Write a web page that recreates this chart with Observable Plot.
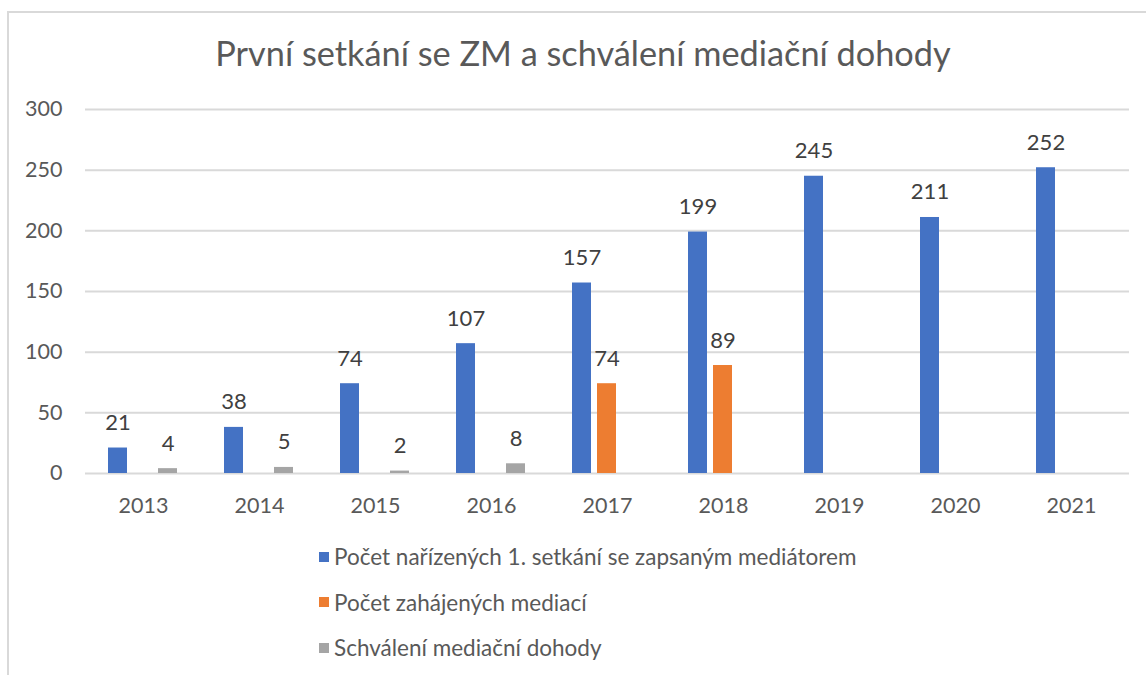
<!DOCTYPE html>
<html>
<head>
<meta charset="utf-8">
<script src="https://cdn.jsdelivr.net/npm/d3@7"></script>
<script src="https://cdn.jsdelivr.net/npm/@observablehq/plot@0.6"></script>
<style>
  html, body { margin: 0; padding: 0; background: #fff; }
  #wrap { position: relative; width: 1146px; height: 675px; overflow: hidden; font-family: Lato, "Open Sans", sans-serif; }
  #frame { position: absolute; left: 7px; top: 11px; width: 1200px; height: 700px; border-left: 2px solid #d9d9d9; border-top: 2px solid #d9d9d9; }
  #title { position: absolute; left: 0; top: 32px; width: 1166px; text-align: center; font-size: 34.3px; color: #595959; }
  #chart { position: absolute; left: 0; top: 90px; }
  #legend { position: absolute; left: 319px; top: 534px; }
  .item { display: flex; align-items: center; height: 45.5px; font-size: 22.5px; color: #595959; }
  .sw { width: 10px; height: 10px; margin-right: 5px; }
</style>
</head>
<body>
<div id="wrap">
  <div id="frame"></div>
  <div id="title">První setkání se ZM a schválení mediační dohody</div>
  <div id="chart"></div>
  <div id="legend"></div>
</div>
<script>
const years = ["2013", "2014", "2015", "2016", "2017", "2018", "2019", "2020", "2021"];
const seriesNames = [
  "Počet nařízených 1. setkání se zapsaným mediátorem",
  "Počet zahájených mediací",
  "Schválení mediační dohody"
];
const firstMeetings = [21, 38, 74, 107, 157, 199, 245, 211, 252];
const startedMediations = [null, null, null, null, 74, 89, null, null, null];
const approvedAgreements = [4, 5, 2, 8, null, null, null, null, null];
const seriesColors = ["#4472C4", "#ED7D31", "#A5A5A5"];
const yTicks = [0, 50, 100, 150, 200, 250, 300];

const seriesValues = [firstMeetings, startedMediations, approvedAgreements];
const rows = [];
years.forEach((year, i) => {
  seriesNames.forEach((s, j) => {
    const v = seriesValues[j][i];
    if (v != null) rows.push({year, series: s, value: v});
  });
});

const chart = Plot.plot({
  width: 1146,
  height: 433,
  marginLeft: 84,
  marginRight: 16,
  marginTop: 19,
  marginBottom: 50,
  style: {fontFamily: "Lato, 'Open Sans', sans-serif", background: "transparent"},
  fx: {domain: years, padding: 0, label: null},
  x: {domain: seriesNames, paddingInner: 0.2308, paddingOuter: 0.85, axis: null},
  y: {domain: [0, 300], label: null},
  color: {domain: seriesNames, range: seriesColors},
  marks: [
    Plot.gridY(yTicks, {stroke: "#d9d9d9", strokeOpacity: 1, strokeWidth: 2}),
    Plot.barY(rows, {fx: "year", x: "series", y: "value", fill: "series"}),
    Plot.text(rows, {fx: "year", x: "series", y: "value", text: d => String(d.value), lineAnchor: "bottom", dy: -18, fontSize: 22, fill: "#404040"}),
    Plot.axisY(yTicks, {tickSize: 0, tickPadding: 23, fontSize: 21.5, color: "#595959", label: null}),
    Plot.axisFx({anchor: "bottom", tickSize: 0, tickPadding: 24, fontSize: 21.5, color: "#595959", label: null})
  ]
});
document.getElementById("chart").appendChild(chart);

const legend = document.getElementById("legend");
seriesNames.forEach((s, i) => {
  const item = document.createElement("div");
  item.className = "item";
  const sw = document.createElement("span");
  sw.className = "sw";
  sw.style.background = seriesColors[i];
  const t = document.createElement("span");
  t.textContent = s;
  item.appendChild(sw);
  item.appendChild(t);
  legend.appendChild(item);
});
</script>
</body>
</html>
